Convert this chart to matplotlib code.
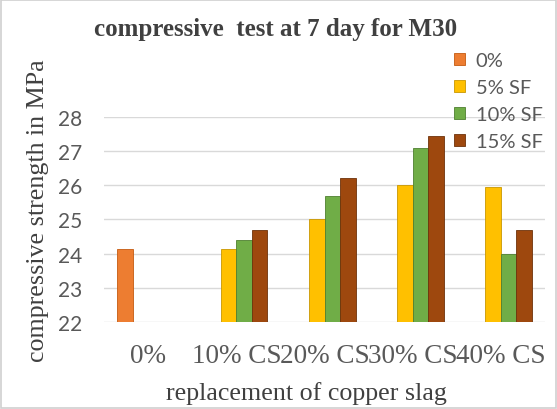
import numpy as np
import matplotlib
matplotlib.use('Agg')
import matplotlib.pyplot as plt
from matplotlib.patches import Rectangle

# ------------------------------------------------------------------
# ------------------------- Data -----------------------------------
# ------------------------------------------------------------------
categories = ['0%', '10% CS', '20% CS', '30% CS', '40% CS']
series_names = ['0%', '5% SF', '10% SF', '15% SF']
s_0 = [24.15, np.nan, np.nan, np.nan, np.nan]
s_5sf = [np.nan, 24.15, 25.0, 26.0, 25.95]
s_10sf = [np.nan, 24.4, 25.7, 27.1, 24.0]
s_15sf = [np.nan, 24.7, 26.2, 27.45, 24.7]
yticks = [22, 23, 24, 25, 26, 27, 28]

colors = ['#ED7D31', '#FFC000', '#70AD47', '#9E480E']
edges = ['#C55A11', '#C99700', '#4E7F30', '#6E320A']

# ------------------------------------------------------------------
# ------------------------- Figure ---------------------------------
# ------------------------------------------------------------------
fig = plt.figure(figsize=(5.57, 4.10), dpi=100)
ax1 = fig.add_axes([0.1867, 0.2122, 0.7918, 0.5])
fig.patches.append(Rectangle((0.002, 0.002), 0.996, 0.996, transform=fig.transFigure,
                             fill=False, edgecolor='#D0D0D0', lw=1.2))

x = np.arange(len(categories))
w = 0.176
for i, vals in enumerate([s_0, s_5sf, s_10sf, s_15sf]):
    v = np.array(vals)
    ax1.bar(x + (i - 1.5) * w, v - 22, bottom=22, width=w, color=colors[i],
            edgecolor=edges[i], linewidth=0.6, label=series_names[i], zorder=3)

ax1.set_xlim(-0.5, 4.5)
ax1.set_ylim(22, 28)
ax1.set_yticks(yticks)
ax1.grid(axis='y', color='#D9D9D9', lw=1, zorder=0)
for s in ['top', 'right', 'left', 'bottom']:
    ax1.spines[s].set_visible(False)
ax1.tick_params(axis='both', length=0)
ax1.tick_params(axis='y', pad=15.5, labelsize=15, labelcolor='#595959')
ax1.tick_params(axis='x', pad=15, labelsize=19.5, labelcolor='#595959')
for lab in ax1.get_yticklabels():
    lab.set_family('Lato')
ax1.set_xticks(x)
ax1.set_xticklabels(categories, family='Liberation Serif')

fig.text(0.495, 0.927, 'compressive  test at 7 day for M30', ha='center', va='center',
         family='Liberation Serif', fontweight='bold', fontsize=18, color='#404040')
fig.text(0.551, 0.041, 'replacement of copper slag', ha='center', va='center',
         family='Liberation Serif', fontsize=18.7, color='#404040')
fig.text(0.068, 0.485, 'compressive strength in MPa', ha='center', va='center', rotation=90,
         family='Liberation Serif', fontsize=18.7, color='#404040')

leg = fig.legend(loc='upper left', bbox_to_anchor=(0.8, 0.89), frameon=False,
                 prop={'family': 'Lato', 'size': 14.5}, handlelength=0.55, handleheight=0.55,
                 handletextpad=0.55, labelspacing=0.5, borderaxespad=0)
for t in leg.get_texts():
    t.set_color('#595959')

plt.savefig('out.png', dpi=100)
